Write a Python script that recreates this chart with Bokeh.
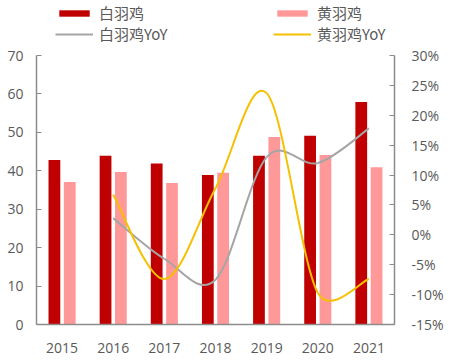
import math
from bokeh.plotting import figure
from bokeh.models import (Range1d, LinearAxis, FixedTicker, Legend, LegendItem,
                          PrintfTickFormatter)
from bokeh.embed import file_html
from bokeh.resources import INLINE

years = ["2015", "2016", "2017", "2018", "2019", "2020", "2021"]
white = [42.8, 43.9, 41.9, 38.9, 43.9, 49.1, 57.9]
yellow = [37.1, 39.7, 36.8, 39.5, 48.8, 44.1, 40.9]
yoy_years = ["2016", "2017", "2018", "2019", "2020", "2021"]
white_yoy = [2.8, -4.0, -7.5, 13.0, 12.0, 17.8]
yellow_yoy = [6.7, -7.4, 7.8, 23.7, -9.7, -7.4]

left_ticks = [0, 10, 20, 30, 40, 50, 60, 70]
right_ticks = [-15, -10, -5, 0, 5, 10, 15, 20, 25, 30]

FONT = "Open Sans"
CJK = "Noto Sans CJK SC"
DARK = "#C00000"
PINK = "#FF9999"
GREY = "#A5A5A5"
GOLD = "#F5C000"
AXIS = "#8C8C8C"
LABEL = "#595959"

W, H = 446, 356
BL, BR, BB = 36, 48, 32
TOP_PAD = 55  # space above the axes, inside the frame, for the legend
FRAME_H = H - BB

L_MIN, L_MAX = 0, 70
R_MIN, R_MAX = -15, 30
l_top = L_MIN + (L_MAX - L_MIN) * FRAME_H / (FRAME_H - TOP_PAD)
r_top = R_MIN + (R_MAX - R_MIN) * FRAME_H / (FRAME_H - TOP_PAD)

xi = list(range(len(years)))
idx = {y: i for i, y in enumerate(years)}

p = figure(width=W, height=H, output_backend="svg", toolbar_location=None,
           x_range=Range1d(-0.5, len(years) - 0.5), y_range=Range1d(L_MIN, l_top),
           min_border_left=BL, min_border_right=BR, min_border_top=0,
           min_border_bottom=BB)
p.outline_line_color = None
p.xgrid.visible = False
p.ygrid.visible = False
p.extra_y_ranges = {"yoy": Range1d(R_MIN, r_top)}

r_w = p.vbar(x=[v - 0.15 for v in xi], top=white, width=0.23, fill_color=DARK, line_color=None)
r_y = p.vbar(x=[v + 0.15 for v in xi], top=yellow, width=0.23, fill_color=PINK, line_color=None)

# pixel scale of the frame, used only for the smoothing tension (Excel-like)
SX = (W - BL - BR) / len(years)
SY = (FRAME_H - TOP_PAD) / (R_MAX - R_MIN)


def smooth(xs, ys, color):
    n = len(xs)
    pts = [(xs[i] * SX, ys[i] * SY) for i in range(n)]

    def dist(a, b):
        return math.hypot(a[0] - b[0], a[1] - b[1])

    x0, y0, x1, y1, cx0, cy0, cx1, cy1 = [], [], [], [], [], [], [], []
    for i in range(n - 1):
        pm = i - 1 if i > 0 else i
        pp = i + 2 if i + 2 < n else i + 1
        d12 = dist(pts[i], pts[i + 1])
        d02 = dist(pts[pm], pts[i + 1])
        d13 = dist(pts[i], pts[pp])
        f0 = 1 / 6 if d02 / 6 < d12 / 2 else d12 / (2 * d02)
        f1 = 1 / 6 if d13 / 6 < d12 / 2 else d12 / (2 * d13)
        x0.append(xs[i]); y0.append(ys[i])
        x1.append(xs[i + 1]); y1.append(ys[i + 1])
        cx0.append(xs[i] + (xs[i + 1] - xs[pm]) * f0)
        cy0.append(ys[i] + (ys[i + 1] - ys[pm]) * f0)
        cx1.append(xs[i + 1] - (xs[pp] - xs[i]) * f1)
        cy1.append(ys[i + 1] - (ys[pp] - ys[i]) * f1)
    p.bezier(x0=x0, y0=y0, x1=x1, y1=y1, cx0=cx0, cy0=cy0, cx1=cx1, cy1=cy1,
             line_color=color, line_width=2, y_range_name="yoy")
    return p.line(xs, ys, line_color=color, line_width=2, y_range_name="yoy", visible=False)


yx = [idx[y] for y in yoy_years]
l_w = smooth(yx, white_yoy, GREY)
l_y = smooth(yx, yellow_yoy, GOLD)

# axes
p.xaxis.ticker = FixedTicker(ticks=xi)
p.xaxis.major_label_overrides = {i: y for i, y in enumerate(years)}
p.xaxis.major_tick_line_color = None
p.xaxis.minor_tick_line_color = None
p.xaxis.axis_line_color = AXIS
p.xaxis.axis_line_width = 1.5
p.xaxis.major_label_standoff = 12
p.xaxis.major_label_text_font = FONT
p.xaxis.major_label_text_font_size = "14px"
p.xaxis.major_label_text_color = LABEL

p.yaxis.ticker = FixedTicker(ticks=left_ticks)
p.yaxis.bounds = (L_MIN, L_MAX)
p.yaxis.minor_tick_line_color = None
p.yaxis.major_tick_in = 5
p.yaxis.major_tick_out = 0
p.yaxis.major_tick_line_color = AXIS
p.yaxis.axis_line_color = AXIS
p.yaxis.axis_line_width = 1.5
p.yaxis.major_label_standoff = 13
p.yaxis.major_label_text_font = FONT
p.yaxis.major_label_text_font_size = "14px"
p.yaxis.major_label_text_color = LABEL

ra = LinearAxis(y_range_name="yoy", ticker=FixedTicker(ticks=right_ticks),
                formatter=PrintfTickFormatter(format="%d%%"), bounds=(R_MIN, R_MAX))
ra.minor_tick_line_color = None
ra.major_tick_in = 5
ra.major_tick_out = 0
ra.major_tick_line_color = AXIS
ra.axis_line_color = AXIS
ra.axis_line_width = 1.5
ra.major_label_standoff = 17
ra.major_label_text_font = FONT
ra.major_label_text_font_size = "14px"
ra.major_label_text_color = LABEL
p.add_layout(ra, "right")

legend = Legend(items=[
    LegendItem(label="白羽鸡", renderers=[r_w]),
    LegendItem(label="白羽鸡YoY", renderers=[l_w]),
    LegendItem(label="黄羽鸡", renderers=[r_y]),
    LegendItem(label="黄羽鸡YoY", renderers=[l_y]),
], ncols=2, location=(19, 280), padding=0, margin=0, spacing=-3,
    glyph_width=38, glyph_height=8, label_standoff=6, label_width=174,
    label_height=18, label_text_font=CJK, label_text_font_size="15px",
    label_text_color=LABEL, border_line_color=None, background_fill_alpha=0)
p.add_layout(legend, "center")

open("out.html", "w").write(file_html(p, INLINE))
